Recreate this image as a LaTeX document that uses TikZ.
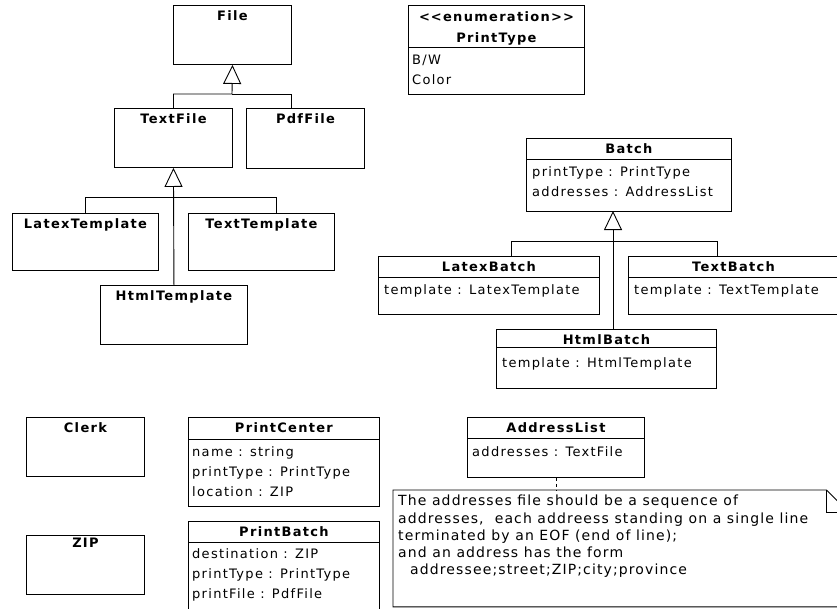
\documentclass[tikz,border=0pt]{standalone}
\usepackage{fontspec}
\setmainfont{DejaVu Sans}[LetterSpace=10]
\newfontfamily\notefont{DejaVu Sans}[LetterSpace=8]
\usetikzlibrary{arrows.meta,positioning,calc}

\newcommand\umlfont{\fontsize{13}{20}\selectfont}
\tikzset{
  cls/.style={draw, line width=0.9pt, anchor=north west, inner sep=0pt},
  ttl/.style={anchor=north, font=\umlfont\bfseries, inner sep=0pt, yshift=-5pt},
  attr/.style={anchor=north west, align=left, font=\umlfont, inner sep=0pt},
  inherit/.style={line width=0.9pt, -{Triangle[open,length=19pt,width=18pt]}},
  sep/.style={line width=0.9pt},
}

\begin{document}
\begin{tikzpicture}[x=1pt,y=-1pt]
\useasboundingbox (0,0) rectangle (837,608);
\clip (0,0) rectangle (837,608);

% file hierarchy
\node[cls, minimum width=118pt, minimum height=59pt] (file) at (173,5) {};
\node[cls, minimum width=118pt, minimum height=59pt] (textfile) at (114,108) {};
\node[cls, minimum width=118pt, minimum height=60pt] (pdffile) at (246,108) {};
\node[cls, minimum width=146pt, minimum height=57pt] (latextemplate) at (12,213) {};
\node[cls, minimum width=146pt, minimum height=57pt] (texttemplate) at (188,213) {};
\node[cls, minimum width=147pt, minimum height=59pt] (htmltemplate) at (100,285) {};
\node[ttl] at (file.north) {File};
\node[ttl] at (textfile.north) {TextFile};
\node[ttl] at (pdffile.north) {PdfFile};
\node[ttl] at (latextemplate.north) {LatexTemplate};
\node[ttl] at (texttemplate.north) {TextTemplate};
\node[ttl] at (htmltemplate.north) {HtmlTemplate};

\coordinate (fileFork) at (232,94);
\coordinate (pdfBend) at (291,94);
\draw[inherit] (textfile.north) |- (fileFork) -- (file.south);
\draw[sep] (fileFork) -- (pdfBend) -- (pdffile.north -| pdfBend);
\coordinate (ttBend) at (276,197);
\draw[inherit] (htmltemplate.north) -- (textfile.south);
\draw[sep] (latextemplate.north) |- (ttBend) -- (texttemplate.north -| ttBend);

% enumeration
\node[cls, minimum width=176pt, minimum height=89pt] (printtype) at (408,5) {};
\node[ttl, align=center, font=\fontsize{13}{21}\selectfont\bfseries, yshift=-1pt] at (printtype.north)
  {<\kern1pt<enumeration>\kern1pt>\\PrintType};
\draw[sep] ([yshift=-42pt]printtype.north west) -- ([yshift=-42pt]printtype.north east);
\node[attr] at ([shift={(4pt,-49.5pt)}]printtype.north west) {B/W\\Color};

% batch hierarchy
\node[cls, minimum width=205pt, minimum height=73pt] (batch) at (526,138) {};
\node[cls, minimum width=221pt, minimum height=58pt] (latexbatch) at (378,256) {};
\node[cls, minimum width=210pt, minimum height=58pt] (textbatch) at (628,256) {};
\node[cls, minimum width=220pt, minimum height=59pt] (htmlbatch) at (496,329) {};
\node[ttl] at (batch.north) {Batch};
\node[ttl] at (latexbatch.north) {LatexBatch};
\node[ttl] at (textbatch.north) {TextBatch};
\node[ttl] at (htmlbatch.north) {HtmlBatch};
\draw[sep] ([yshift=-21pt]batch.north west) -- ([yshift=-21pt]batch.north east);
\draw[sep] ([yshift=-21pt]latexbatch.north west) -- ([yshift=-21pt]latexbatch.north east);
\draw[sep] ([yshift=-21pt]textbatch.north west) -- ([yshift=-21pt]textbatch.north east);
\draw[sep] ([yshift=-18pt]htmlbatch.north west) -- ([yshift=-18pt]htmlbatch.north east);
\node[attr] at ([shift={(6pt,-28.5pt)}]batch.north west) {printType : PrintType\\addresses : AddressList};
\node[attr] at ([shift={(6pt,-28.5pt)}]latexbatch.north west) {template : LatexTemplate};
\node[attr] at ([shift={(6pt,-28.5pt)}]textbatch.north west) {template : TextTemplate};
\node[attr] at ([shift={(6pt,-28.5pt)}]htmlbatch.north west) {template : HtmlTemplate};

\coordinate (batchTip) at (613,211);
\coordinate (lbBend) at (511,241);
\coordinate (tbBend) at (717,241);
\draw[inherit] (htmlbatch.north -| batchTip) -- (batchTip);
\draw[sep] (latexbatch.north -| lbBend) -- (lbBend) -- (tbBend) -- (textbatch.north -| tbBend);

% lower classes
\node[cls, minimum width=118pt, minimum height=59pt] (clerk) at (26,417) {};
\node[cls, minimum width=118pt, minimum height=59pt] (zip) at (26,535) {};
\node[ttl] at (clerk.north) {Clerk};
\node[ttl, yshift=2pt] at (zip.north) {ZIP};

\node[cls, minimum width=191pt, minimum height=89pt] (printcenter) at (188,417) {};
\node[ttl] at (printcenter.north) {PrintCenter};
\draw[sep] ([yshift=-22pt]printcenter.north west) -- ([yshift=-22pt]printcenter.north east);
\node[attr] at ([shift={(4pt,-29.5pt)}]printcenter.north west) {name : string\\printType : PrintType\\location : ZIP};

\node[cls, minimum width=191pt, minimum height=95pt] (printbatch) at (188,521) {};
\node[ttl] at (printbatch.north) {PrintBatch};
\draw[sep] ([yshift=-21pt]printbatch.north west) -- ([yshift=-21pt]printbatch.north east);
\node[attr] at ([shift={(4pt,-27.5pt)}]printbatch.north west) {destination : ZIP\\printType : PrintType\\printFile : PdfFile};

\node[cls, minimum width=177pt, minimum height=60pt] (addresslist) at (467,417) {};
\node[ttl] at (addresslist.north) {AddressList};
\draw[sep] ([yshift=-21pt]addresslist.north west) -- ([yshift=-21pt]addresslist.north east);
\node[attr] at ([shift={(5pt,-29pt)}]addresslist.north west) {addresses : TextFile};

% note
\node[anchor=north west, inner sep=0pt, minimum width=455pt, minimum height=116.5pt] (note) at (393,490) {};
\draw[sep] (note.north west) -- ([xshift=-22pt]note.north east) -- ([yshift=-22pt]note.north east)
  -- (note.south east) -- (note.south west) -- cycle;
\draw[sep] ([xshift=-22pt]note.north east) |- ([yshift=-22pt]note.north east);
\node[anchor=north west, align=left, inner sep=0pt, font=\notefont\fontsize{14}{17.2}\selectfont]
  at ([shift={(5pt,-5pt)}]note.north west)
  {The addresses file should be a sequence of\\
   addresses,\ \ each addreess standing on a single line\\
   terminated by an EOF (end of line);\\
   and an address has the form\\
   \hspace*{12pt}addressee;street;ZIP;city;province};
\draw[sep, dashed, dash pattern=on 3pt off 3pt] (addresslist.south) -- (addresslist.south |- note.north);
\end{tikzpicture}
\end{document}
